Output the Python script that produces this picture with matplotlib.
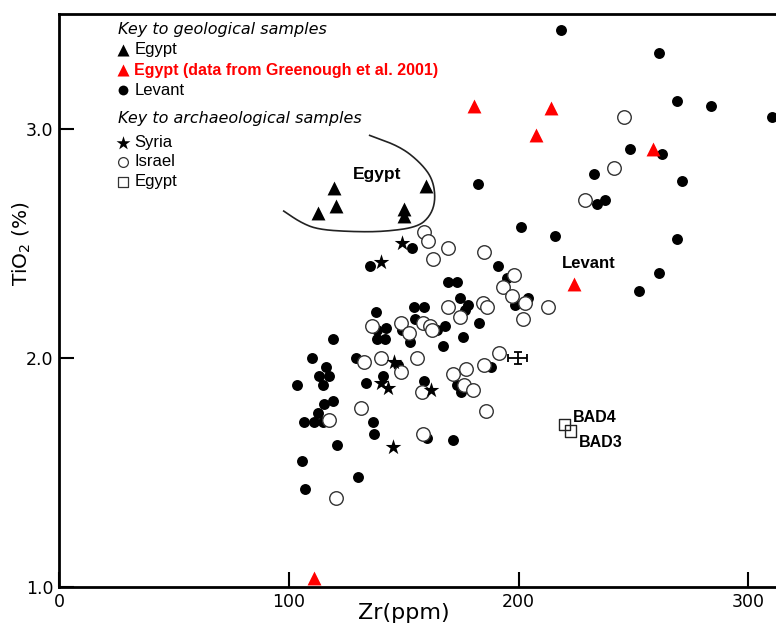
import matplotlib.pyplot as plt
import numpy as np

plt.rcParams['font.family'] = ['DejaVu Sans']
SANS = ['Liberation Sans', 'DejaVu Sans']

# geological samples
egypt_geo_x = [112.6, 119.6, 120.4, 150.0, 150.0, 159.6]
egypt_geo_y = [2.63, 2.74, 2.66, 2.65, 2.62, 2.75]

egypt_green_x = [110.9, 180.4, 207.4, 213.9, 258.3, 223.9]
egypt_green_y = [1.04, 3.10, 2.97, 3.09, 2.91, 2.32]

levant_x = [218.3, 261.3, 269.1, 283.9, 310.4, 248.3, 262.6, 182.2, 233.0, 270.9,
            234.3, 237.8, 200.9, 215.7, 269.1, 260.9, 252.2, 153.5, 135.2, 169.1,
            173.0, 190.9, 194.8, 174.3, 177.8, 176.5, 203.9, 198.3, 137.8, 154.3,
            158.7, 154.8, 138.3, 142.2, 138.3, 141.7, 149.1, 152.6, 164.3, 167.8,
            182.6, 175.7, 167.0, 119.1, 110.0, 116.1, 113.0, 117.4, 114.8, 103.5,
            129.1, 133.5, 140.9, 147.4, 158.7, 173.0, 174.8, 187.8, 119.1, 115.2,
            112.6, 106.5, 110.9, 114.8, 136.5, 137.0, 160.0, 171.3, 120.9, 105.7,
            130.0, 107.0]
levant_y = [3.43, 3.33, 3.12, 3.10, 3.05, 2.91, 2.89, 2.76, 2.80, 2.77,
            2.67, 2.69, 2.57, 2.53, 2.52, 2.37, 2.29, 2.48, 2.40, 2.33,
            2.33, 2.40, 2.35, 2.26, 2.23, 2.21, 2.26, 2.23, 2.20, 2.22,
            2.22, 2.17, 2.12, 2.13, 2.08, 2.08, 2.12, 2.07, 2.12, 2.14,
            2.15, 2.09, 2.05, 2.08, 2.00, 1.96, 1.92, 1.92, 1.88, 1.88,
            2.00, 1.89, 1.92, 1.97, 1.90, 1.88, 1.85, 1.96, 1.81, 1.80,
            1.76, 1.72, 1.72, 1.72, 1.72, 1.67, 1.65, 1.64, 1.62, 1.55,
            1.48, 1.43]

# archaeological samples
syria_x = [149.1, 140.0, 145.7, 140.0, 143.0, 161.7, 145.2]
syria_y = [2.50, 2.42, 1.98, 1.89, 1.87, 1.86, 1.61]

israel_x = [245.7, 241.7, 228.7, 169.1, 184.8, 197.8, 193.0, 158.7, 160.4, 162.6,
            197.0, 202.6, 201.7, 213.0, 184.3, 186.1, 169.1, 174.3, 136.1, 148.7,
            152.2, 158.3, 161.3, 162.2, 132.6, 140.0, 148.7, 155.7, 171.3, 177.0,
            184.8, 191.3, 176.1, 180.0, 157.8, 131.3, 117.4, 185.7, 158.3, 120.4]
israel_y = [3.05, 2.83, 2.69, 2.48, 2.46, 2.36, 2.31, 2.55, 2.51, 2.43,
            2.27, 2.24, 2.17, 2.22, 2.24, 2.22, 2.22, 2.18, 2.14, 2.15,
            2.11, 2.15, 2.14, 2.12, 1.98, 2.00, 1.94, 2.00, 1.93, 1.95,
            1.97, 2.02, 1.88, 1.86, 1.85, 1.78, 1.73, 1.77, 1.67, 1.39]

egypt_arch_x = [220.0, 222.6]
egypt_arch_y = [1.71, 1.68]
egypt_arch_labels = ['BAD4', 'BAD3']

# outline drawn round the Egyptian field
curve_x = [135.2, 148.7, 157.4, 162.6, 163.9, 161.7, 156.1, 141.3, 127.0, 112.6, 105.2, 97.8]
curve_y = [2.97, 2.92, 2.85, 2.78, 2.69, 2.62, 2.57, 2.55, 2.55, 2.56, 2.59, 2.64]


def chaikin(xs, ys, n=4):
    p = np.column_stack([xs, ys])
    for _ in range(n):
        q = 0.75 * p[:-1] + 0.25 * p[1:]
        r = 0.25 * p[:-1] + 0.75 * p[1:]
        new = np.empty((2 * len(q), 2))
        new[0::2] = q
        new[1::2] = r
        p = np.vstack([p[:1], new, p[-1:]])
    return p[:, 0], p[:, 1]


fig = plt.figure(figsize=(7.76, 6.30), dpi=100)
ax = fig.add_axes([0.076, 0.068, 0.924, 0.910])

ax.scatter(levant_x, levant_y, s=62, c='black', marker='o', linewidths=0, zorder=3)
ax.scatter(israel_x, israel_y, s=95, facecolors='white', edgecolors='#333333',
           linewidths=1.0, marker='o', zorder=4)
ax.scatter(syria_x, syria_y, s=140, c='black', marker='*', linewidths=0, zorder=5)
ax.scatter(egypt_geo_x, egypt_geo_y, s=100, c='black', marker='^', linewidths=0, zorder=5)
ax.scatter(egypt_green_x, egypt_green_y, s=100, c='red', marker='^', linewidths=0, zorder=5)
ax.scatter(egypt_arch_x, egypt_arch_y, s=70, facecolors='none', edgecolors='#222222',
           linewidths=1.0, marker='s', zorder=5)

for x, y, lab, dy in zip(egypt_arch_x, egypt_arch_y, egypt_arch_labels, [0.03, -0.05]):
    ax.text(x + 3.5, y + dy, lab, fontsize=11.5, fontweight='bold', va='center', ha='left',
            family=SANS)

cx, cy = chaikin(curve_x, curve_y)
ax.plot(cx, cy, color='#222222', lw=1.2)

ax.errorbar([199.6], [2.0], xerr=[4.0], yerr=[0.025], fmt='none', ecolor='black',
            elinewidth=1.3, capsize=3, capthick=1.3)

ax.text(138.5, 2.80, 'Egypt', fontsize=12.5, fontweight='bold', ha='center', va='center',
        family=SANS)
ax.text(230.5, 2.41, 'Levant', fontsize=12, fontweight='bold', ha='center', va='center',
        family=SANS)

# key
tr = ax.transAxes
ax.text(0.082, 0.972, 'Key to geological samples', style='italic', fontsize=11.5,
        transform=tr, va='center')
ax.text(0.082, 0.818, 'Key to archaeological samples', style='italic', fontsize=11.5,
        transform=tr, va='center')
rows = [
    (0.937, '^', 'black', 'black', 'Egypt', 'black'),
    (0.902, '^', 'red', 'red', 'Egypt (data from Greenough et al. 2001)', 'red'),
    (0.867, 'o', 'black', 'black', 'Levant', 'black'),
    (0.775, '*', 'black', 'black', 'Syria', 'black'),
    (0.742, 'o', 'white', '#333333', 'Israel', 'black'),
    (0.707, 's', 'white', '#333333', 'Egypt', 'black'),
]
sizes = {'^': 75, 'o': 50, '*': 110, 's': 55}
for fy, m, fc, ec, lab, tc in rows:
    ax.scatter([0.089], [fy], s=sizes[m], marker=m, facecolors=fc, edgecolors=ec,
               linewidths=0.9 if fc == 'white' else 0, transform=tr, clip_on=False, zorder=5)
    ax.text(0.105, fy, lab, fontsize=12 if tc == 'black' else 11.5, color=tc,
            fontweight='bold' if tc == 'red' else 'normal',
            transform=tr, va='center', family=SANS)

ax.set_xlim(0, 312)
ax.set_ylim(1.0, 3.5)
ax.set_xticks([0, 100, 200, 300])
ax.set_xticklabels(['0', '100', '200', '300'])
ax.set_yticks([1.0, 2.0, 3.0])
ax.set_yticklabels(['1.0', '2.0', '3.0'])
ax.tick_params(direction='in', length=11, width=1.5, labelsize=12.5, pad=4)
ax.spines['right'].set_visible(False)
for s in ['left', 'top', 'bottom']:
    ax.spines[s].set_linewidth(2)

ax.set_xlabel('Zr(ppm)', fontsize=16)
ax.xaxis.set_label_coords(0.481, -0.045)
ax.xaxis.label.set_verticalalignment('center')
ax.set_ylabel('TiO$_2$ (%)', fontsize=14.5)
ax.yaxis.set_label_coords(-0.052, 0.60)
ax.yaxis.label.set_verticalalignment('center')

fig.savefig('out.png', dpi=100)
